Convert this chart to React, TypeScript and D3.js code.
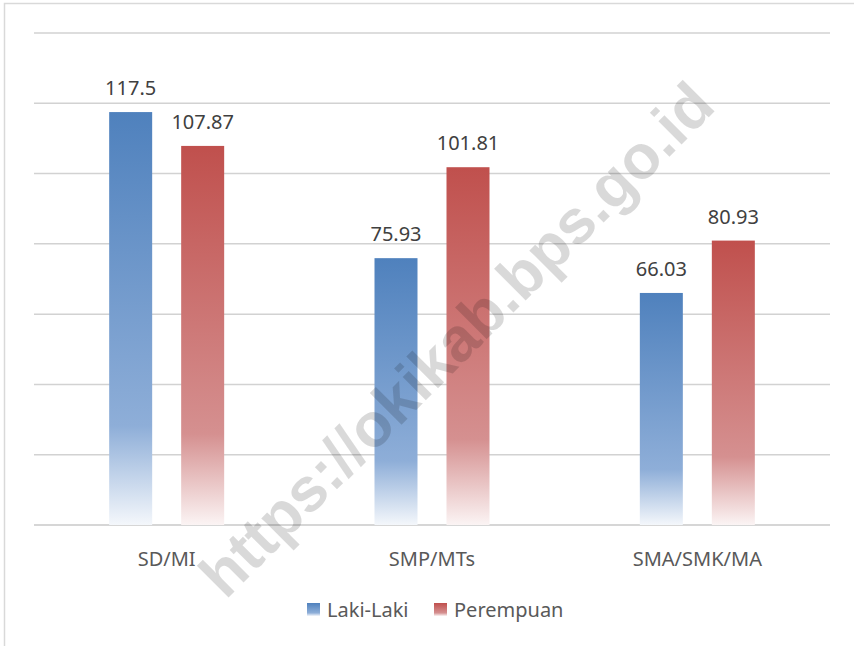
import * as d3 from "d3"

const categories = ["SD/MI", "SMP/MTs", "SMA/SMK/MA"]
const seriesNames = ["Laki-Laki", "Perempuan"]
const lakiLaki = [117.5, 75.93, 66.03]
const perempuan = [107.87, 101.81, 80.93]
const gridTicks = [0, 20, 40, 60, 80, 100, 120, 140]

const W = 854
const H = 646
const margin = { top: 33, right: 24, bottom: 121, left: 34 }
const font = "'Noto Sans', 'Open Sans', sans-serif"

const colors = [
  { id: "gBlue", top: "#4f81bd", mid: "#8eaed8", bottom: "#f4f7fb" },
  { id: "gRed", top: "#c0504d", mid: "#d59090", bottom: "#fbf4f4" },
]

export default function App() {
  const x = d3
    .scaleBand()
    .domain(categories)
    .range([margin.left, W - margin.right])
  const barW = 43
  const step = 72
  const y = d3
    .scaleLinear()
    .domain([0, 140])
    .range([H - margin.bottom, margin.top])

  const series = [lakiLaki, perempuan]

  return (
    <svg
      width={W}
      height={H}
      style={{ position: "absolute", left: 0, top: 0, background: "#fff" }}
    >
      <defs>
        {colors.map((c) => (
          <linearGradient key={c.id} id={c.id} x1="0" y1="0" x2="0" y2="1">
            <stop offset="0" stopColor={c.top} />
            <stop offset="0.76" stopColor={c.mid} />
            <stop offset="1" stopColor={c.bottom} />
          </linearGradient>
        ))}
      </defs>

      <rect x={4.5} y={3.5} width={W + 10} height={H + 10} fill="none" stroke="#d9d9d9" strokeWidth={1.5} />

      {/* gridlines */}
      {gridTicks.map((t) => (
        <line
          key={t}
          x1={margin.left}
          x2={W - margin.right}
          y1={y(t)}
          y2={y(t)}
          stroke={t === 0 ? "#c8c8c8" : "#d2d2d2"}
          strokeWidth={1.5}
        />
      ))}

      {/* bars */}
      {categories.map((cat, i) => {
        const cx = (x(cat) ?? 0) + x.bandwidth() / 2
        const groupStart = cx - (step + barW) / 2
        return (
          <g key={cat}>
            {series.map((vals, s) => {
              const bx = groupStart + s * step
              const v = vals[i]
              return (
                <g key={s}>
                  <rect
                    x={bx}
                    y={y(v)}
                    width={barW}
                    height={y(0) - y(v)}
                    fill={`url(#${colors[s].id})`}
                  />
                  <text
                    x={bx + barW / 2}
                    y={y(v) - 17}
                    textAnchor="middle"
                    fontFamily={font}
                    fontSize={20}
                    fill="#404040"
                  >
                    {v}
                  </text>
                </g>
              )
            })}
            <text
              x={cx}
              y={566}
              textAnchor="middle"
              fontFamily={font}
              fontSize={20}
              fill="#595959"
            >
              {cat}
            </text>
          </g>
        )
      })}

      {/* legend */}
      {seriesNames.map((name, s) => {
        const lx = s === 0 ? 307 : 434
        return (
          <g key={name}>
            <rect x={lx} y={603} width={13} height={13} fill={`url(#${colors[s].id})`} />
            <text x={lx + 20} y={617} fontFamily={font} fontSize={20} fill="#595959">
              {name}
            </text>
          </g>
        )
      })}

      {/* watermark */}
      <text
        transform="translate(460,343) rotate(-45)"
        textAnchor="middle"
        dominantBaseline="middle"
        fontFamily="'Liberation Sans', Arial, sans-serif"
        fontWeight="bold"
        fontSize={62}
        fill="#000"
        fillOpacity={0.15}
      >
        https://okikab.bps.go.id
      </text>
    </svg>
  )
}
